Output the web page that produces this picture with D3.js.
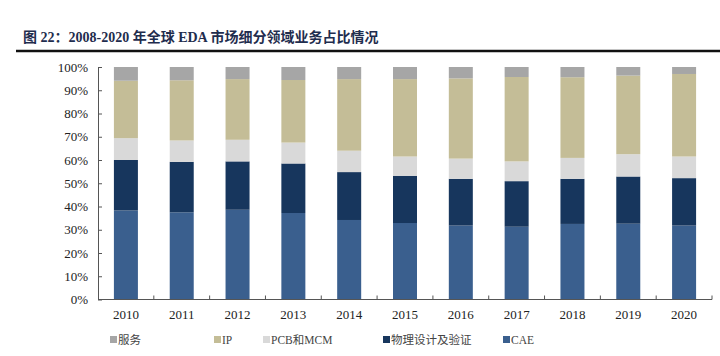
<!DOCTYPE html>
<html><head><meta charset="utf-8">
<script src="https://cdn.jsdelivr.net/npm/d3@7"></script>
<style>
html,body{margin:0;padding:0;background:#fff;}
svg{display:block;}
</style></head>
<body>
<svg id="chart" width="720" height="356"></svg>
<script>
const years = ["2010","2011","2012","2013","2014","2015","2016","2017","2018","2019","2020"];
const seriesNames = ["CAE","物理设计及验证","PCB和MCM","IP","服务"];
const cae      = [38.3,37.5,38.6,37.2,34.2,32.9,31.8,31.3,32.5,32.6,31.8];
const physical = [21.7,21.7,20.8,21.3,20.6,20.3,20.1,19.6,19.4,20.3,20.4];
const pcbMcm   = [9.4, 9.2, 9.3, 9.0, 9.2, 8.3, 8.7, 8.5, 9.0, 9.6, 9.3];
const ip       = [24.7,25.9,26.1,26.9,30.8,33.3,34.5,36.3,34.7,33.8,35.5];
const service  = [5.9, 5.7, 5.2, 5.6, 5.2, 5.2, 4.9, 4.3, 4.4, 3.7, 3.0];
const yTicks = [0,10,20,30,40,50,60,70,80,90,100];
const colors = ["#3A5F8E","#17365D","#D9D9D9","#C4BD97","#A6A6A6"];

const serif = "'Liberation Serif','Times New Roman','Noto Sans CJK SC',serif";
const svg = d3.select("#chart");

// title
svg.append("text").attr("x",23).attr("y",42)
  .attr("font-family",serif).attr("font-weight","bold").attr("font-size",14)
  .attr("fill","#1F2D4E").text("图 22：2008-2020 年全球 EDA 市场细分领域业务占比情况");
svg.append("line").attr("x1",16).attr("x2",720).attr("y1",51).attr("y2",51)
  .attr("stroke","#111").attr("stroke-width",2.5);

const m = {left:98, right:712, top:67, bottom:299.5};
const x = d3.scaleBand().domain(years).range([m.left,m.right]).paddingInner(0.57).paddingOuter(0.285);
const y = d3.scaleLinear().domain([0,100]).range([m.bottom,m.top]);

const rows = years.map((yr,i)=>({year:yr, CAE:cae[i], "物理设计及验证":physical[i], "PCB和MCM":pcbMcm[i], "IP":ip[i], "服务":service[i]}));
const stack = d3.stack().keys(seriesNames)(rows);

svg.append("g").selectAll("g").data(stack).join("g")
  .attr("fill",(d,i)=>colors[i])
  .selectAll("rect").data(d=>d).join("rect")
  .attr("x",d=>x(d.data.year)).attr("width",x.bandwidth())
  .attr("y",d=>y(d[1])).attr("height",d=>y(d[0])-y(d[1]));

// y axis
const yAxis = d3.axisLeft(y).tickValues(yTicks).tickFormat(d=>d+"%").tickSizeInner(-4).tickSizeOuter(0).tickPadding(10);
const gy = svg.append("g").attr("transform",`translate(${m.left},0)`).call(yAxis);
gy.select(".domain").attr("stroke","#555");
gy.selectAll(".tick line").attr("stroke","#555");
gy.selectAll("text").attr("font-family",serif).attr("font-size",13).attr("fill","#222");

// x axis
const xb = d3.scaleLinear().domain([0,years.length]).range([m.left,m.right]);
const gx = svg.append("g").attr("transform",`translate(0,${m.bottom})`);
gx.append("line").attr("x1",m.left).attr("x2",m.right).attr("stroke","#555");
gx.selectAll("line.t").data(d3.range(1,years.length+1)).join("line").attr("class","t")
  .attr("x1",d=>xb(d)).attr("x2",d=>xb(d)).attr("y1",0).attr("y2",-4).attr("stroke","#555");
gx.selectAll("text").data(years).join("text")
  .attr("x",d=>x(d)+x.bandwidth()/2).attr("y",19).attr("text-anchor","middle")
  .attr("font-family",serif).attr("font-size",13).attr("fill","#222").text(d=>d);

// legend
const legendOrder = [4,3,2,1,0];
const legendX = [110,214,263,383,503];
const lg = svg.append("g");
legendOrder.forEach((si,k)=>{
  const g = lg.append("g").attr("transform",`translate(${legendX[k]},340)`);
  g.append("rect").attr("x",0).attr("y",-4).attr("width",7).attr("height",7).attr("fill",colors[si]);
  g.append("text").attr("x",8).attr("y",4).attr("font-family",serif).attr("font-size",11.5)
    .attr("fill","#444").text(seriesNames[si]);
});
</script>
</body></html>
